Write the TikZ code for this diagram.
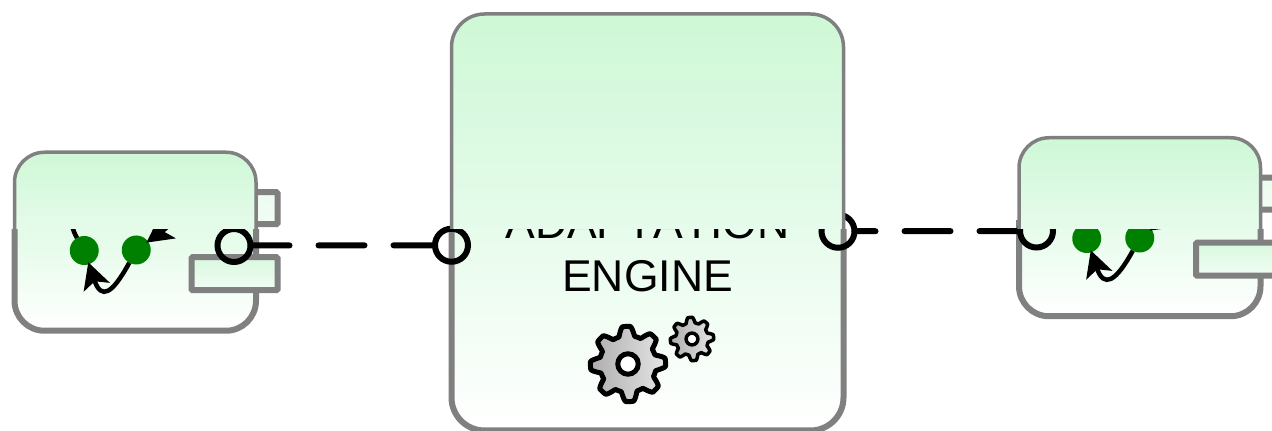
\documentclass[tikz,border=0pt]{standalone}
\usepackage{fontspec}
\setmainfont[Kerning=Off]{Liberation Sans}
\usepackage{xcolor}
\usetikzlibrary{arrows.meta,positioning}
\definecolor{rim}{HTML}{808080}
\definecolor{topgreen}{HTML}{CEF8D6}
\definecolor{lidgreen}{HTML}{E6FBEB}
\definecolor{tabgreen}{HTML}{D8F8DF}
\definecolor{tabpale}{HTML}{F2FDF4}
\definecolor{dotgreen}{HTML}{008000}
\newcommand{\gearwheel}[5]{%
  \draw[gear,line width=#5,shift={(#1,#2)}]
    plot[domain=0:360,samples=193] (\x:{#3*(1+0.14*max(-1,min(1,1.6*sin(8*\x+#4))))}) -- cycle;
  \draw[line width=#5,fill=white] (#1,#2) circle ({#3*0.31});
}

\begin{document}
\begin{tikzpicture}[
  x=1pt,y=1pt,
  comp/.style={top color=topgreen,bottom color=white,rounded corners=30pt,
               minimum width=241.5pt,minimum height=178.5pt,inner sep=0pt,outer sep=0pt},
  rimlow/.style={draw=rim,line width=6pt},
  lid/.style={draw=rim,line width=3.5pt,top color=topgreen,bottom color=lidgreen},
  tabbox/.style={draw=rim,line width=6pt,top color=tabgreen,bottom color=tabpale,rounded corners=1pt,
                 anchor=north east,inner sep=0pt,outer sep=0pt,xshift=21.5pt},
  dot/.style={circle,fill=dotgreen,minimum size=29pt,inner sep=0pt,outer sep=0pt},
  socket/.style={circle,draw=black,line width=6pt,minimum size=33pt,inner sep=0pt,outer sep=0pt},
  flow/.style={line width=4.5pt,shorten >=-2pt,-{Stealth[length=26pt,width=27pt,inset=6pt]}},
  wire/.style={line width=6pt,line cap=round,dash pattern=on 46pt off 29pt},
  gear/.style={draw=black,left color=black!32,right color=black!10,line join=round}
]
\useasboundingbox (0,0) rectangle (1272,431);
\coordinate (cut) at (0,202);

% the three boxes
\node[comp,minimum width=392pt,minimum height=416.5pt,rounded corners=33pt] (engine) at (647.5,208.75) {};
\node[comp,left=195.5pt of engine,yshift=-19.25pt] (src) {};
\node[comp,right=175.5pt of engine,yshift=-4.75pt] (dst) {};
\foreach \comp/\rad in {src/30pt,engine/33pt,dst/30pt}
  \draw[rimlow,rounded corners=\rad] (\comp.west |- cut) -- (\comp.south west)
    -- (\comp.south east) -- (\comp.east |- cut);
\draw[rimlow] (dst.west |- cut) -- +(0,9);

% left component
\node[tabbox,minimum width=40pt,minimum height=32pt,yshift=-40pt,top color=tabgreen!50!white] (srctop) at (src.north east) {};
\node[tabbox,minimum width=86pt,minimum height=33pt,yshift=-105pt] (srclow) at (src.north east) {};
\node[dot,xshift=-51pt,yshift=-9pt] (srca) at (src) {};
\node[dot,xshift=1pt,yshift=-8.5pt] (srcb) at (src) {};
\draw[flow] (srca) .. controls +(120:90) and +(36:110) .. (srcb);
\draw[flow] (srcb) .. controls +(-24,-44) and +(17,-50) .. (srca);

% right component
\node[tabbox,minimum width=40pt,minimum height=32pt,yshift=-40pt,top color=tabgreen!50!white] (dsttop) at (dst.north east) {};
\node[tabbox,minimum width=86pt,minimum height=33pt,yshift=-105pt] (dstlow) at (dst.north east) {};
\node[dot,xshift=-53pt,yshift=-11.5pt] (dsta) at (dst) {};
\node[dot,yshift=-11pt] (dstb) at (dst) {};
\draw[flow] (dsta) .. controls +(120:90) and +(36:110) .. (dstb);
\draw[flow] (dstb) .. controls +(-24,-44) and +(17,-50) .. (dsta);

% engine
\node[font=\fontsize{44.5}{53}\selectfont,align=center,yshift=-27pt] (enginetext) at (engine) {ADAPTATION\\ENGINE};
\gearwheel{628}{67}{33}{70}{5pt}
\gearwheel{692}{92}{19}{50}{3.5pt}

% sockets and wires
\node[socket,xshift=-22pt,yshift=-4pt] (srcsock) at (src.east) {};
\node[socket,yshift=-23pt] (enginein) at (engine.west) {};
\node[socket,xshift=-5.5pt,yshift=-9pt] (engineout) at (engine.east) {};
\node[socket,xshift=17.5pt,yshift=-4pt] (dstsock) at (dst.west) {};
\draw[wire,dash phase=7pt] (srcsock) -- (enginein);
\draw[wire,dash phase=25pt] (engineout) -- (dstsock);

% upper parts laid over the boxes
\foreach \comp/\rad in {src/30pt,engine/33pt,dst/30pt}
  \path[lid,rounded corners=\rad] (\comp.west |- cut) -- (\comp.north west)
    -- (\comp.north east) -- (\comp.east |- cut);
\end{tikzpicture}
\end{document}
